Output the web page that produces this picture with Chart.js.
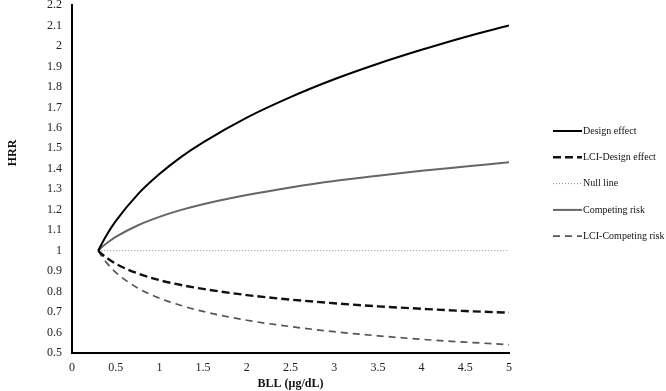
<!DOCTYPE html>
<html>
<head>
<meta charset="utf-8">
<script src="https://cdn.jsdelivr.net/npm/chart.js@4"></script>
<style>
  body { margin: 0; background: #fff; }
  #wrap { width: 666px; height: 391px; }
</style>
</head>
<body>
<div id="wrap"><canvas id="hrrChart" width="666" height="391"></canvas></div>
<script>
// BLL values (x) and HRR
const bll = [0.3, 0.35, 0.4, 0.5, 0.75, 1, 1.25, 1.5, 2, 2.5, 3, 3.5, 4, 4.5, 5];
const designEffect = [1, 1.041, 1.079, 1.144, 1.274, 1.374, 1.458, 1.529, 1.65, 1.75, 1.837, 1.913, 1.981, 2.044, 2.10];
const lciDesignEffect = [1, 0.980, 0.964, 0.936, 0.889, 0.856, 0.832, 0.813, 0.783, 0.761, 0.743, 0.728, 0.716, 0.705, 0.697];
const competingRisk = [1, 1.020, 1.037, 1.067, 1.123, 1.165, 1.199, 1.227, 1.272, 1.309, 1.34, 1.366, 1.39, 1.411, 1.432];
const lciCompetingRisk = [1, 0.967, 0.939, 0.894, 0.818, 0.768, 0.732, 0.703, 0.66, 0.629, 0.604, 0.584, 0.567, 0.553, 0.541];
const nullX = [0.3, 5];
const nullY = [1, 1];

const serif = '"Liberation Serif", "DejaVu Serif", serif';

function pts(xs, ys) {
    return xs.map((x, i) => ({ x: x, y: ys[i] }));
}

function numLabel(v) {
    return String(Math.round(v * 100) / 100);
}

// legend on the right + rotated y title
const sideLegend = {
    id: 'sideLegend',
    afterDraw(chart) {
        const ctx = chart.ctx;
        const area = chart.chartArea;
        ctx.save();
        ctx.font = '10px ' + serif;
        ctx.textBaseline = 'middle';
        ctx.fillStyle = '#111';
        const x0 = area.right + 44;
        let y = area.top + 126;
        chart.data.datasets.forEach((ds) => {
            ctx.beginPath();
            ctx.strokeStyle = ds.borderColor;
            ctx.lineWidth = ds.borderWidth;
            ctx.setLineDash(ds.borderDash || []);
            ctx.moveTo(x0, y);
            ctx.lineTo(x0 + 29, y);
            ctx.stroke();
            ctx.setLineDash([]);
            ctx.fillText(ds.label, x0 + 30, y);
            y += 26.3;
        });

        ctx.font = 'bold 12px ' + serif;
        ctx.textAlign = 'center';
        ctx.translate(13, area.top + area.height * 0.425);
        ctx.rotate(-Math.PI / 2);
        ctx.fillText('HRR', 0, 0);
        ctx.restore();
    }
};

const ctx = document.getElementById('hrrChart').getContext('2d');

const chart = new Chart(ctx, {
    type: 'line',
    data: {
        datasets: [
            {
                label: 'Design effect',
                data: pts(bll, designEffect),
                borderColor: '#000',
                borderWidth: 2,
            },
            {
                label: 'LCI-Design effect',
                data: pts(bll, lciDesignEffect),
                borderColor: '#111',
                borderWidth: 2.4,
                borderDash: [8, 4],
            },
            {
                label: 'Null line',
                data: pts(nullX, nullY),
                borderColor: '#888',
                borderWidth: 1,
                borderDash: [1, 2],
            },
            {
                label: 'Competing risk',
                data: pts(bll, competingRisk),
                borderColor: '#666',
                borderWidth: 2,
            },
            {
                label: 'LCI-Competing risk',
                data: pts(bll, lciCompetingRisk),
                borderColor: '#555',
                borderWidth: 1.7,
                borderDash: [7, 5],
            },
        ],
    },
    options: {
        responsive: false,
        animation: false,
        cubicInterpolationMode: 'monotone',
        elements: { point: { radius: 0 } },
        layout: { padding: { left: 22, right: 157, top: 5, bottom: 0 } },
        plugins: {
            legend: { display: false },
            tooltip: { enabled: false },
        },
        scales: {
            x: {
                type: 'linear',
                min: 0,
                max: 5,
                grid: { display: false, drawTicks: false },
                border: { display: true, color: '#000', width: 2 },
                ticks: {
                    stepSize: 0.5,
                    padding: 8,
                    color: '#222',
                    font: { family: serif, size: 12 },
                    callback: numLabel,
                },
                title: {
                    display: true,
                    text: 'BLL (μg/dL)',
                    color: '#111',
                    font: { family: serif, size: 12, weight: 'bold' },
                    padding: { top: 2, bottom: 0 },
                },
                afterFit(scale) {
                    scale.height = 38;
                    scale.paddingLeft = 0;
                    scale.paddingRight = 0;
                },
            },
            y: {
                min: 0.5,
                max: 2.2,
                grid: { display: false, drawTicks: false },
                border: { display: true, color: '#000', width: 2 },
                ticks: {
                    stepSize: 0.1,
                    padding: 10,
                    color: '#222',
                    font: { family: serif, size: 12 },
                    callback: numLabel,
                },
                afterFit(scale) {
                    scale.width = 50;
                    scale.paddingTop = 0;
                    scale.paddingBottom = 0;
                },
            },
        },
    },
    plugins: [sideLegend],
});
</script>
</body>
</html>
